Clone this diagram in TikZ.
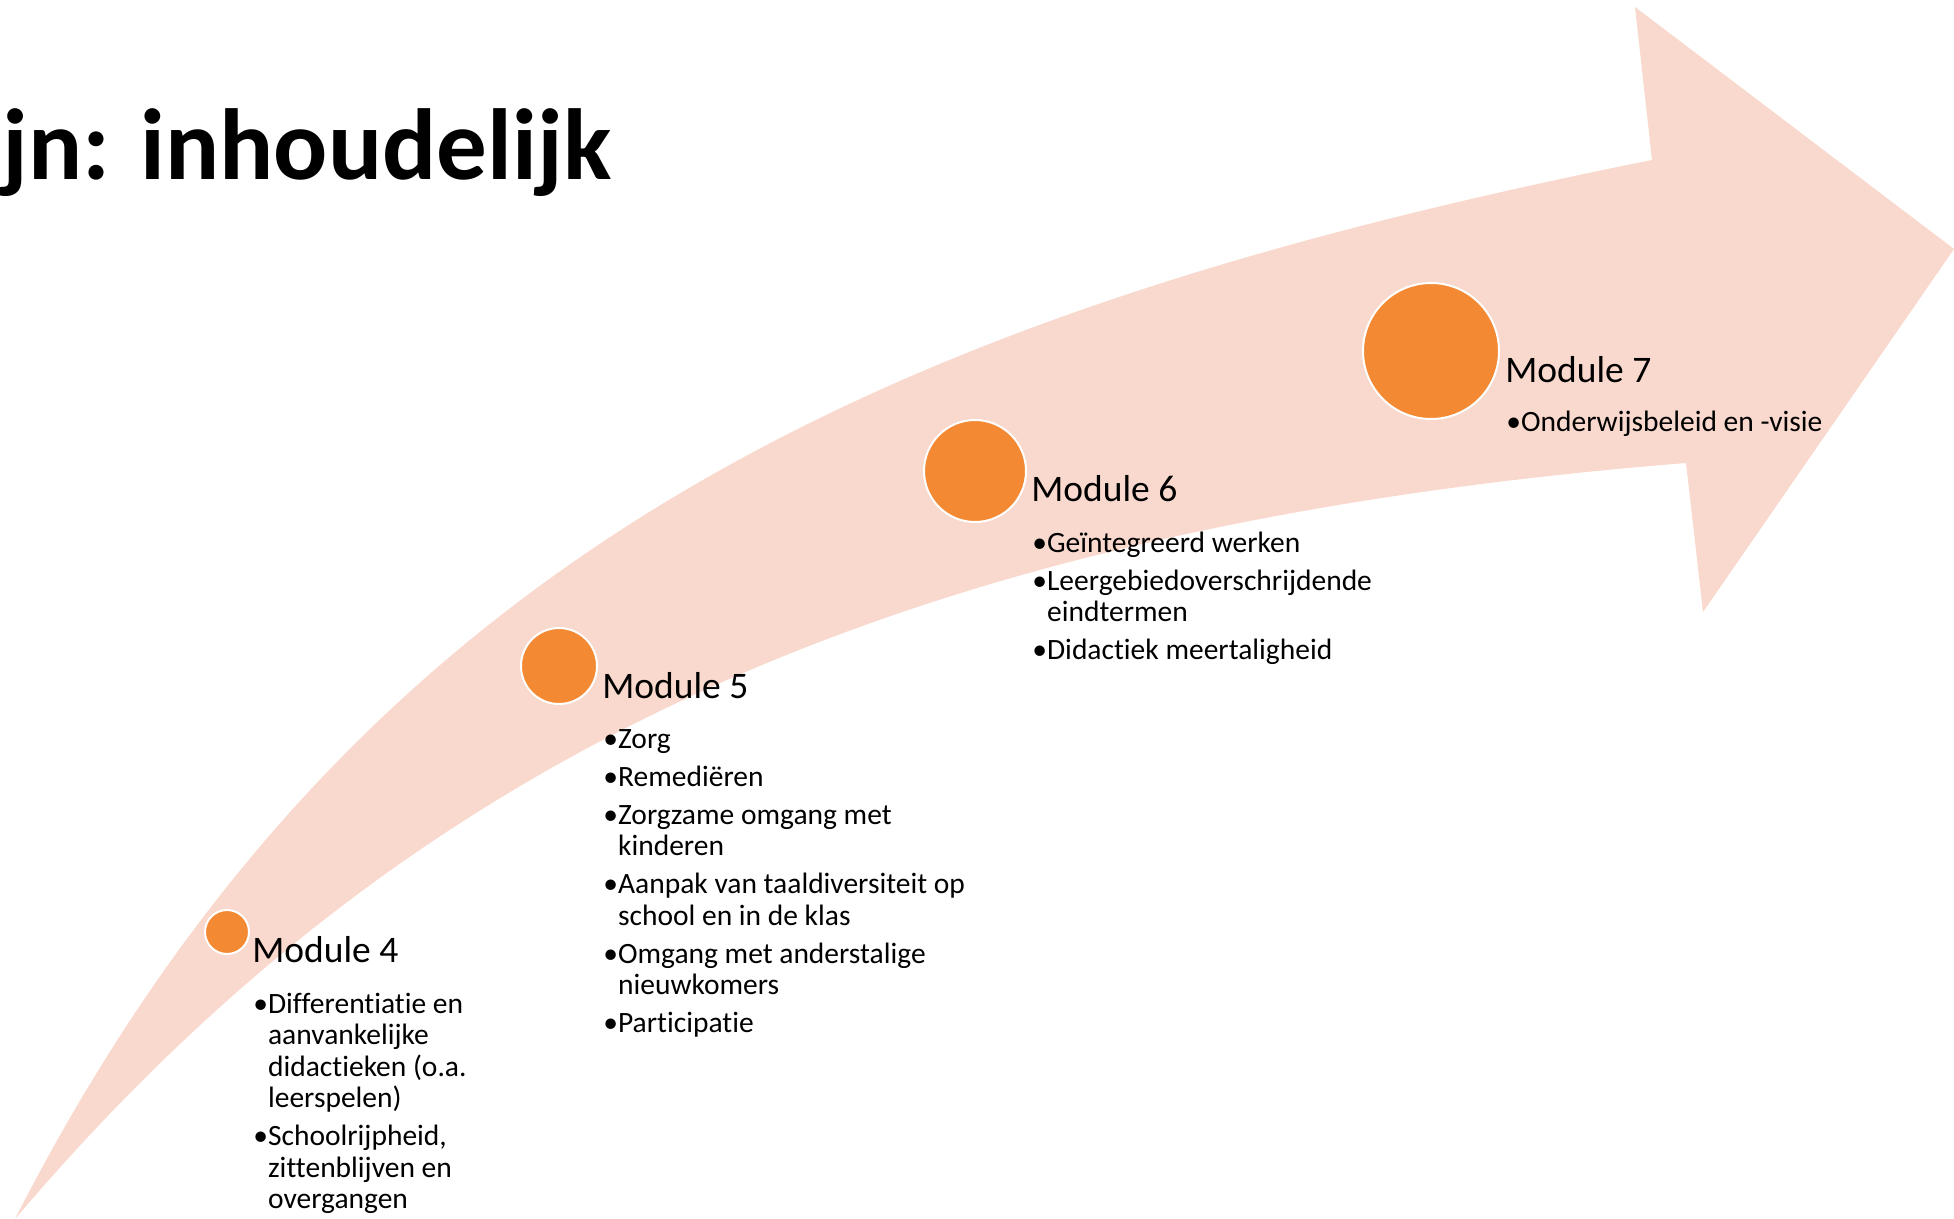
\documentclass[tikz,border=0pt]{standalone}
\usepackage{fontspec}
\setmainfont{Carlito}[Ligatures=NoCommon]
\definecolor{bandpink}{RGB}{249,217,205}
\definecolor{dotorange}{RGB}{244,137,52}
\tikzset{
  band/.style={fill=bandpink},
  dot/.style={circle,fill=dotorange,draw=white,line width=1pt,inner sep=0pt},
  modtitle/.style={anchor=base west,inner sep=0pt,font=\fontsize{18.75}{22}\selectfont},
  modlist/.style={anchor=base west,inner sep=0pt,font=\fontsize{14.75}{15.75}\selectfont},
}
\begin{document}
\begin{tikzpicture}[x=0.5pt,y=-0.5pt]
	\useasboundingbox (0,0) rectangle (1954,1219);
	% curved arrow
	\fill[band] (15,1219) .. controls (356,551) and (888,313) .. (1652,160)
		-- (1635,7) -- (1954,249) -- (1703,612) -- (1686,463)
		.. controls (888,527) and (403,762) .. cycle;
	\node[anchor=base west,inner sep=0pt,font=\fontsize{50.5}{60}\selectfont\bfseries] (title) at (2,180) {jn: inhoudelijk};
	% dots
	\node[dot,minimum size=22pt] (m4) at (227,932) {};
	\node[dot,minimum size=38pt] (m5) at (559,666) {};
	\node[dot,minimum size=51pt] (m6) at (975,471) {};
	\node[dot,minimum size=68pt] (m7) at (1431,351) {};
	% module 4
	\node[modtitle] (t4) at (252,962) {Module 4};
	\node[modlist] (l4) at (253,1013) {\begin{tabular}[t]{@{}l@{}l@{}}
		•&Differentiatie en\\
		&aanvankelijke\\
		&didactieken (o.a.\\
		&leerspelen)\\[3.25pt]
		•&Schoolrijpheid,\\
		&zittenblijven en\\
		&overgangen
	\end{tabular}};
	% module 5
	\node[modtitle] (t5) at (602,698) {Module 5};
	\node[modlist] (l5) at (603,748) {\begin{tabular}[t]{@{}l@{}l@{}}
		•&Zorg\\[3.25pt]
		•&Remediëren\\[3.25pt]
		•&Zorgzame omgang met\\
		&kinderen\\[3.25pt]
		•&Aanpak van taaldiversiteit op\\
		&school en in de klas\\[3.25pt]
		•&Omgang met anderstalige\\
		&nieuwkomers\\[3.25pt]
		•&Participatie
	\end{tabular}};
	% module 6
	\node[modtitle] (t6) at (1031,502) {Module 6};
	\node[modlist] (l6) at (1032,552) {\begin{tabular}[t]{@{}l@{}l@{}}
		•&Geïntegreerd werken\\[3.25pt]
		•&Leergebiedoverschrijdende\\
		&eindtermen\\[3.25pt]
		•&Didactiek meertaligheid
	\end{tabular}};
	% module 7
	\node[modtitle] (t7) at (1505,383) {Module 7};
	\node[modlist] (l7) at (1506,432) {\begin{tabular}[t]{@{}l@{}l@{}}
		•&Onderwijsbeleid en -visie
	\end{tabular}};
\end{tikzpicture}
\end{document}
